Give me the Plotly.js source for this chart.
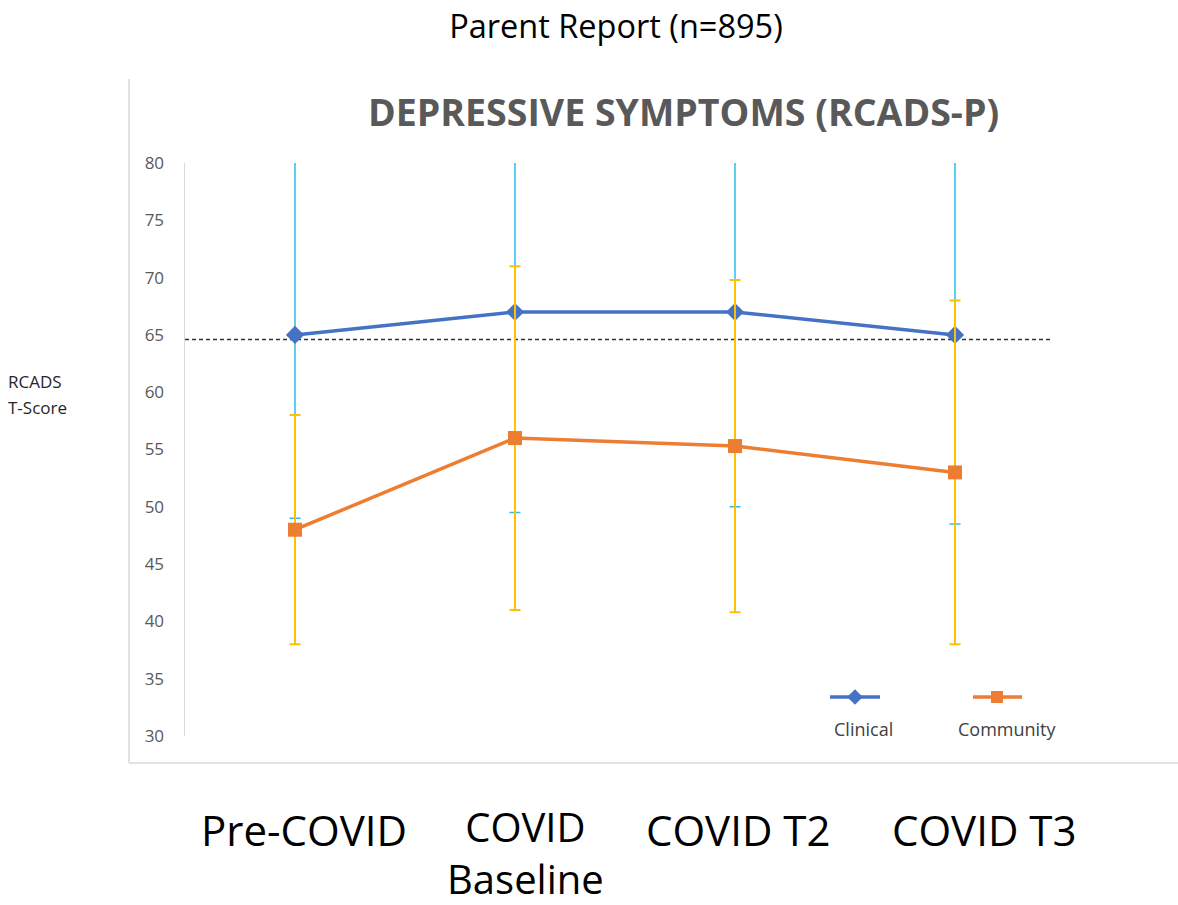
<!DOCTYPE html>
<html>
<head>
<meta charset="utf-8">
<script src="https://cdn.plot.ly/plotly-3.0.1.min.js"></script>
<style>html,body{margin:0;padding:0;background:#fff;}#chart{width:1178px;height:905px;}</style>
</head>
<body>
<div id="chart"></div>
<script>
// ---- data ----
var categories = ["Pre-COVID", "COVID Baseline", "COVID T2", "COVID T3"];
var categoryLabels = ["Pre-COVID", "COVID<br>Baseline", "COVID T2", "COVID T3"];
var clinicalMean = [65, 67, 67, 65];
var clinicalSD = [16, 17.5, 17, 16.5];
var communityMean = [48, 56, 55.3, 53];
var communitySD = [10, 15, 14.5, 15];
var clinicalThreshold = 64.6;
var yTicks = [30, 35, 40, 45, 50, 55, 60, 65, 70, 75, 80];
var seriesNames = ["Clinical", "Community"];
var yAxisLabel = ["RCADS", "T-Score"];

// ---- styles ----
var blue = "#4472C4", orange = "#ED7D31", cyan = "#2BBFEF", gold = "#FFC000";
var labelShift = [9, 10, 3, 29];

var traces = [
  { // clinical error bars
    x: categories, y: clinicalMean, type: "scatter", mode: "markers",
    marker: {color: "rgba(0,0,0,0)", size: 1},
    error_y: {type: "data", array: clinicalSD, visible: true, color: cyan, thickness: 1.5, width: 5.5},
    showlegend: false, hoverinfo: "skip"
  },
  {
    x: categories, y: clinicalMean, type: "scatter", mode: "lines+markers", name: seriesNames[0],
    line: {color: blue, width: 3.5},
    marker: {symbol: "diamond", size: 14, color: blue},
    showlegend: false
  },
  { // community error bars
    x: categories, y: communityMean, type: "scatter", mode: "markers",
    marker: {color: "rgba(0,0,0,0)", size: 1},
    error_y: {type: "data", array: communitySD, visible: true, color: gold, thickness: 2, width: 5.5},
    showlegend: false, hoverinfo: "skip"
  },
  {
    x: categories, y: communityMean, type: "scatter", mode: "lines+markers", name: seriesNames[1],
    line: {color: orange, width: 3.5},
    marker: {symbol: "square", size: 14, color: orange},
    showlegend: false
  },
  // legend keys drawn on a pixel-mapped overlay axis
  {
    x: [830, 880], y: [697, 697], xaxis: "x2", yaxis: "y2",
    type: "scatter", mode: "lines", line: {color: blue, width: 3.5},
    showlegend: false, hoverinfo: "skip", cliponaxis: false
  },
  {
    x: [855], y: [697], xaxis: "x2", yaxis: "y2",
    type: "scatter", mode: "markers", marker: {symbol: "diamond", size: 12, color: blue},
    showlegend: false, hoverinfo: "skip", cliponaxis: false
  },
  {
    x: [973, 1022], y: [697, 697], xaxis: "x2", yaxis: "y2",
    type: "scatter", mode: "lines", line: {color: orange, width: 3.5},
    showlegend: false, hoverinfo: "skip", cliponaxis: false
  },
  {
    x: [997], y: [697], xaxis: "x2", yaxis: "y2",
    type: "scatter", mode: "markers", marker: {symbol: "square", size: 12, color: orange},
    showlegend: false, hoverinfo: "skip", cliponaxis: false
  }
];

var L = 185, R = 1065, T = 163, B = 736;
function px(xp){ return (xp - L) / (R - L); }
function py(yp){ return (B - yp) / (B - T); }

var annotations = [];
categoryLabels.forEach(function(lbl, i){
  var twoLine = lbl.indexOf("<br>") >= 0;
  annotations.push({
    x: i, xref: "x", y: py(twoLine ? 852 : 829), yref: "paper",
    text: lbl, showarrow: false, xanchor: "center", yanchor: "middle",
    xshift: labelShift[i],
    font: {family: "Open Sans", size: twoLine ? 40 : 42, color: "#000"}
  });
});
annotations.push({
  x: px(683.5), xref: "paper", y: py(112), yref: "paper", text: "<b>DEPRESSIVE SYMPTOMS (RCADS-P)</b>",
  showarrow: false, xanchor: "center", yanchor: "middle",
  font: {family: "Open Sans", size: 37.5, color: "#595959"}
});
yAxisLabel.forEach(function(t, i){
  annotations.push({
    x: px(6), xref: "paper", y: py(i === 0 ? 381 : 407), yref: "paper", text: t,
    showarrow: false, xanchor: "left", yanchor: "middle", align: "left",
    font: {family: "Open Sans", size: 17, color: "#262626"}
  });
});
annotations.push({
  x: px(863), xref: "paper", y: py(729), yref: "paper", text: seriesNames[0],
  showarrow: false, xanchor: "center", yanchor: "middle",
  font: {family: "Open Sans", size: 18, color: "#404040"}
});
annotations.push({
  x: px(1007), xref: "paper", y: py(729), yref: "paper", text: seriesNames[1],
  showarrow: false, xanchor: "center", yanchor: "middle",
  font: {family: "Open Sans", size: 18, color: "#404040"}
});

var shapes = [
  {type: "line", xref: "paper", yref: "y", x0: 0, x1: px(1053), y0: clinicalThreshold, y1: clinicalThreshold,
   line: {color: "#333", width: 1.3, dash: "4px,3px"}, layer: "below"},
  {type: "line", xref: "paper", yref: "paper", x0: px(129), x1: px(129), y0: py(79), y1: py(763),
   line: {color: "#D9D9D9", width: 1.5}},
  {type: "line", xref: "paper", yref: "paper", x0: px(129), x1: px(1178), y0: py(763), y1: py(763),
   line: {color: "#D9D9D9", width: 1.5}}
];

var layout = {
  width: 1178, height: 905,
  margin: {l: L, r: 1178 - R, t: T, b: 905 - B, pad: 0},
  paper_bgcolor: "#fff", plot_bgcolor: "#fff",
  title: {text: "Parent Report (n=895)", x: 616 / 1178, xanchor: "center", xref: "container",
          y: 1 - 27 / 905, yanchor: "middle", yref: "container",
          font: {family: "Open Sans", size: 32.5, color: "#000"}},
  xaxis: {type: "category", categoryarray: categories, range: [-0.5, 3.5], showgrid: false, zeroline: false,
          showline: false, showticklabels: false, ticks: "", fixedrange: true},
  yaxis: {range: [30, 80], tickvals: yTicks, showgrid: false, zeroline: false, showline: true,
          linecolor: "#D9D9D9", linewidth: 1.5, ticks: "outside", ticklen: 16, tickcolor: "rgba(0,0,0,0)",
          tickfont: {family: "Open Sans", size: 17, color: "#595959"}, fixedrange: true},
  xaxis2: {overlaying: "x", range: [L, R], visible: false, anchor: "y2", fixedrange: true},
  yaxis2: {overlaying: "y", range: [B, T], visible: false, anchor: "x2", fixedrange: true},
  showlegend: false,
  annotations: annotations,
  shapes: shapes
};

Plotly.newPlot("chart", traces, layout, {staticPlot: true, displayModeBar: false});
</script>
</body>
</html>
